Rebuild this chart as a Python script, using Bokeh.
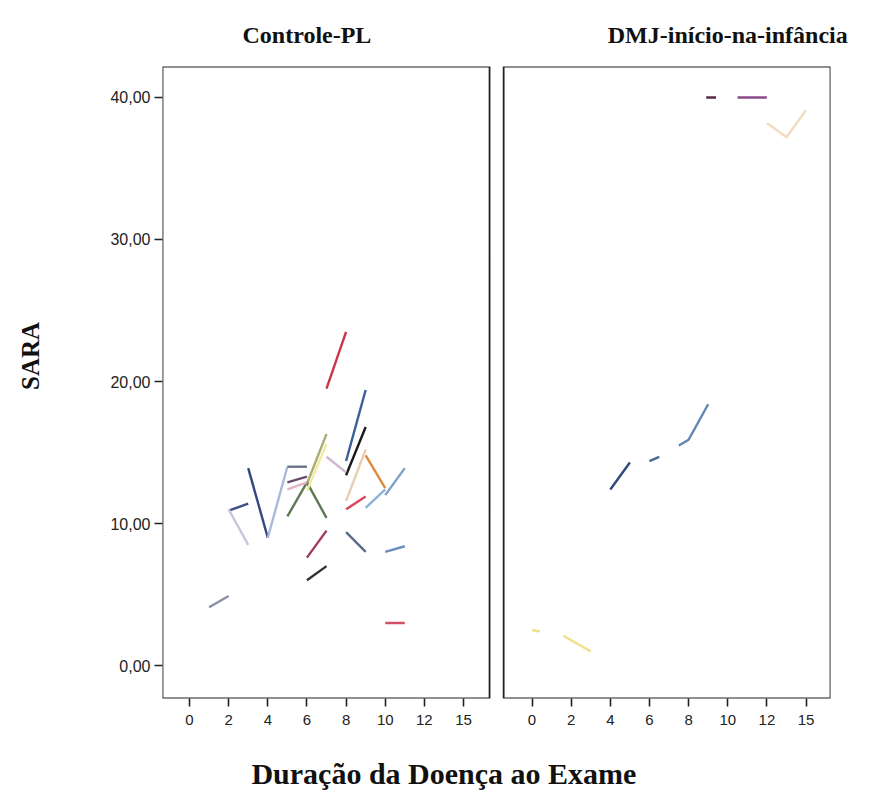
import math
from bokeh.plotting import figure
from bokeh.models import Range1d, FixedTicker, BoxAnnotation, ColumnDataSource, LinearAxis
from bokeh.embed import file_html
from bokeh.resources import INLINE

# ---- data (x = position on the duration axis, y = SARA) ----
tick_labels = ["0", "2", "4", "6", "8", "10", "12", "15"]
tick_pos = [0, 2, 4, 6, 8, 10, 12, 14]
y_ticks = [0, 10, 20, 30, 40]
y_tick_labels = ["0,00", "10,00", "20,00", "30,00", "40,00"]
panel_titles = ["Controle-PL", "DMJ-início-na-infância"]
x_title = "Duração da Doença ao Exame"
y_title = "SARA"

ctrl_x = [[7, 8], [8, 9], [8, 9], [9, 10], [9, 10], [10, 11], [8, 9], [7, 8],
          [8, 9], [6, 7], [5, 6, 7], [6, 7], [3, 4], [4, 5], [5, 6], [2, 3],
          [2, 3], [5, 6], [5, 6], [6, 7], [6, 7], [8, 9], [10, 11], [1, 2], [10, 11]]
ctrl_y = [[19.5, 23.5], [14.4, 19.4], [13.4, 16.8], [14.8, 12.5], [11.1, 12.4],
          [12.0, 13.9], [11.6, 15.2], [14.7, 13.6], [11.0, 11.9], [12.8, 16.3],
          [10.5, 12.9, 10.4], [12.3, 15.6], [13.9, 9.0], [9.0, 14.0], [14.0, 14.0],
          [10.9, 11.4], [11.0, 8.5], [12.9, 13.3], [12.4, 12.9], [7.6, 9.5],
          [6.0, 7.0], [9.4, 8.0], [8.0, 8.4], [4.1, 4.9], [3.0, 3.0]]
ctrl_colors = ["#c8364a", "#3a5f9a", "#1a1a1a", "#e08a3c", "#8fb0d8",
               "#7fa0c8", "#e9cdb0", "#cdb8cd", "#d9475a", "#a9ae7c",
               "#5f7a55", "#f3ea9e", "#34477f", "#a9bad9", "#6b7385",
               "#3f4f86", "#c4c8da", "#6a4a6a", "#e0b6c4", "#a23a64",
               "#333333", "#5a6a8a", "#6a8fbf", "#8a8fa8", "#d1506a"]

dmj_x = [[8.9, 9.4], [10.5, 12], [12, 13, 14], [4, 5], [6, 6.5], [7.5, 8, 9],
         [0, 0.4], [1.6, 3]]
dmj_y = [[40, 40], [40, 40], [38.2, 37.2, 39.1], [12.4, 14.3], [14.4, 14.7],
         [15.5, 15.9, 18.4], [2.5, 2.4], [2.1, 1.0]]
dmj_colors = ["#5b2a4a", "#8a4a8a", "#f2dcc0", "#2f4b7c", "#4a6a95", "#5f86b5",
              "#efe08a", "#efe08a"]

panel_offset = 17.5  # horizontal shift of the second panel
title_pos = [6, 27.5]
x_title_pos = 13
y_title_pos = 24.2

p = figure(width=877, height=795, output_backend="svg", toolbar_location=None,
           x_range=Range1d(-1.38, 32.75), y_range=Range1d(-2.32, 42.18),
           min_border_left=162, min_border_right=47, min_border_top=66,
           min_border_bottom=97)
p.outline_line_color = None
p.xgrid.visible = False
p.ygrid.visible = False
p.background_fill_color = "white"
p.border_fill_color = "white"

ctrl_src = ColumnDataSource(dict(xs=ctrl_x, ys=ctrl_y, c=ctrl_colors))
p.multi_line("xs", "ys", source=ctrl_src, line_color="c", line_width=2.4)

dmj_src = ColumnDataSource(dict(xs=[[v + panel_offset for v in xx] for xx in dmj_x],
                                ys=dmj_y, c=dmj_colors))
p.multi_line("xs", "ys", source=dmj_src, line_color="c", line_width=2.4)

# panel frames
for l, r in [(-1.38, 15.33), (16.05, 32.75)]:
    p.add_layout(BoxAnnotation(left=l, right=r, bottom=-2.32, top=42.18,
                               fill_alpha=0, line_color="#222222", line_alpha=1.0,
                               line_width=1.8))

# bottom tick axis
all_ticks = tick_pos + [t + panel_offset for t in tick_pos]
overrides = {}
for t, lab in zip(tick_pos, tick_labels):
    overrides[t] = lab
    overrides[t + panel_offset] = lab
xa = p.below[0]
xa.ticker = FixedTicker(ticks=all_ticks)
xa.major_label_overrides = overrides
xa.axis_line_color = None
xa.minor_tick_line_color = None
xa.major_tick_out = 8
xa.major_tick_in = 0
xa.major_tick_line_color = "#222222"
xa.major_tick_line_width = 1.6
xa.major_label_standoff = 8
xa.major_label_text_font = "Liberation Sans"
xa.major_label_text_font_size = "15px"
xa.major_label_text_color = "#222222"

# x title (as a second bottom axis carrying one label)
xt = LinearAxis(ticker=FixedTicker(ticks=[x_title_pos]),
                major_label_overrides={x_title_pos: x_title},
                axis_line_color=None, major_tick_line_color=None,
                minor_tick_line_color=None, major_label_standoff=23,
                major_label_text_font="Liberation Serif",
                major_label_text_font_style="bold",
                major_label_text_font_size="30px",
                major_label_text_color="#111111")
p.add_layout(xt, "below")

# panel titles (as an axis above carrying two labels)
tt = LinearAxis(ticker=FixedTicker(ticks=title_pos),
                major_label_overrides=dict(zip(title_pos, panel_titles)),
                axis_line_color=None, major_tick_line_color=None,
                minor_tick_line_color=None, major_label_standoff=13,
                major_label_text_font="Liberation Serif",
                major_label_text_font_style="bold",
                major_label_text_font_size="24px",
                major_label_text_color="#111111")
p.add_layout(tt, "above")

ya = p.left[0]
ya.ticker = FixedTicker(ticks=y_ticks)
ya.major_label_overrides = dict(zip(y_ticks, y_tick_labels))
ya.axis_line_color = None
ya.minor_tick_line_color = None
ya.major_tick_out = 8
ya.major_tick_in = 0
ya.major_tick_line_color = "#222222"
ya.major_tick_line_width = 1.6
ya.major_label_standoff = 4
ya.major_label_text_font = "Liberation Sans"
ya.major_label_text_font_size = "16px"
ya.major_label_text_color = "#222222"

# y title (as a second left axis carrying one vertical label)
yt = LinearAxis(ticker=FixedTicker(ticks=[y_title_pos]),
                major_label_overrides={y_title_pos: y_title},
                major_label_orientation=math.pi / 2,
                axis_line_color=None, major_tick_line_color=None,
                minor_tick_line_color=None, major_label_standoff=71,
                major_label_text_font="Liberation Serif",
                major_label_text_font_style="bold",
                major_label_text_font_size="25px",
                major_label_text_color="#111111")
p.add_layout(yt, "left")

open("out.html", "w").write(file_html(p, INLINE))
